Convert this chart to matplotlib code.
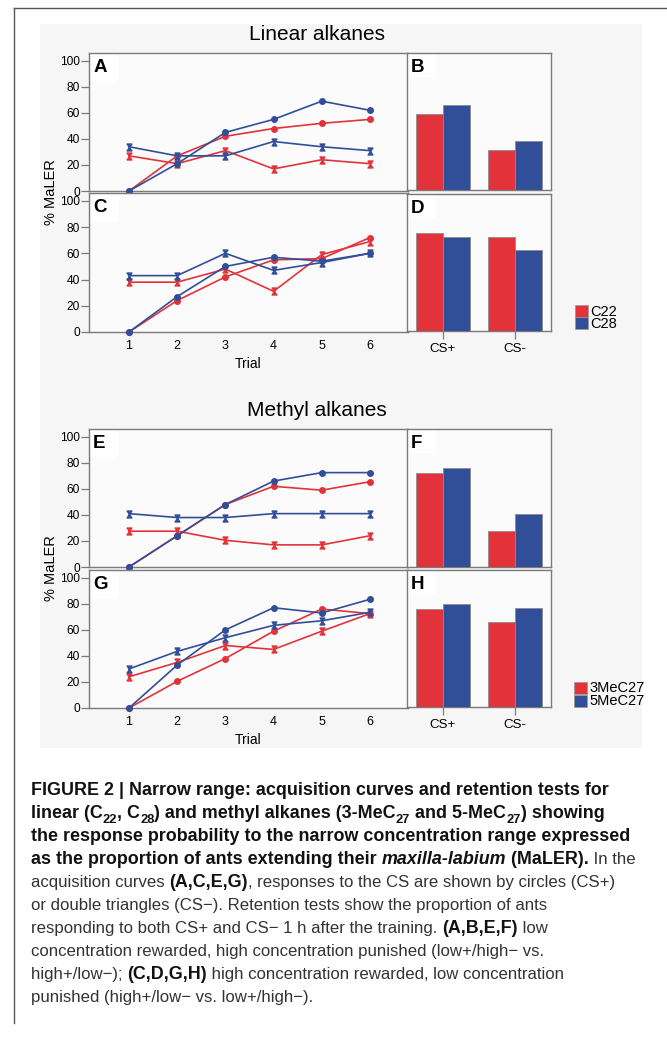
import numpy as np
import matplotlib
matplotlib.use('Agg')
import matplotlib.pyplot as plt
from matplotlib.patches import Rectangle
from matplotlib.lines import Line2D
from matplotlib.path import Path
from matplotlib import font_manager

plt.rcParams['font.family'] = ['Liberation Sans', 'DejaVu Sans']

trials = [1, 2, 3, 4, 5, 6]
groups = ['CS+', 'CS-']

# linear alkanes, low+/high- (A, B)
a_c22_pos = [0, 27, 42, 48, 52, 55]
a_c22_neg = [27, 21, 31, 17, 24, 21]
a_c28_pos = [0, 21, 45, 55, 69, 62]
a_c28_neg = [34, 27, 27, 38, 34, 31]
b_c22 = [59, 31]
b_c28 = [65.5, 38]
# linear alkanes, high+/low- (C, D)
c_c22_pos = [0, 24, 42, 55, 56, 72]
c_c22_neg = [38, 38, 48, 31, 59, 69]
c_c28_pos = [0, 27, 50, 57, 54, 60]
c_c28_neg = [43, 43, 60, 47, 53, 60]
d_c22 = [76, 72.5]
d_c28 = [73, 63]
# methyl alkanes, low+/high- (E, F)
e_3me_pos = [0, 24, 48, 62, 59, 65.5]
e_3me_neg = [27.5, 27.5, 20.5, 17, 17, 24]
e_5me_pos = [0, 24, 48, 66, 72.5, 72.5]
e_5me_neg = [41, 38, 38, 41, 41, 41]
f_3me = [72.5, 27.5]
f_5me = [76, 41]
# methyl alkanes, high+/low- (G, H)
g_3me_pos = [0, 20.5, 38, 59, 76, 72.5]
g_3me_neg = [24, 35, 48, 45, 59, 72.5]
g_5me_pos = [0, 33, 60, 77, 73, 83.5]
g_5me_neg = [30, 43.5, 54, 63.5, 67, 73.5]
h_3me = [76, 65.5]
h_5me = [79.5, 76.5]

red = '#e3333a'
blue = '#304f98'
frame = '#7a7a7a'

W, H = 667, 1037
fig = plt.figure(figsize=(W / 100, H / 100), dpi=100)


def fx(x):
    return x / W


def fy(y):
    return 1 - y / H


def box(l, t, r, b):
    return [l / W, 1 - b / H, (r - l) / W, (b - t) / H]


# page frame + grey figure background
fig.add_artist(Line2D([fx(14), 1], [fy(8), fy(8)], color='#555555', lw=1, transform=fig.transFigure))
fig.add_artist(Line2D([fx(14), fx(14)], [fy(8), fy(1023)], color='#555555', lw=1, transform=fig.transFigure))
fig.add_artist(Rectangle((fx(40), fy(748)), fx(602), 724 / H, color='#f6f6f6', lw=0,
                         transform=fig.transFigure, zorder=-5))

# "double triangle" marker for CS- responses
hourglass = Path([(-0.7, 1), (0.7, 1), (0, 0), (-0.7, 1), (-0.7, -1), (0.7, -1), (0, 0), (-0.7, -1)],
                 [Path.MOVETO, Path.LINETO, Path.LINETO, Path.CLOSEPOLY] * 2)


def style_axes(ax, letter, bw, bh):
    ax.set_facecolor('#fbfbfb')
    for s in ax.spines.values():
        s.set_color(frame)
        s.set_linewidth(1.0)
    ax.add_patch(Rectangle((0, 1 - bh), bw, bh, transform=ax.transAxes, color='white', lw=0, zorder=1))
    ax.text(0.013 if bw < 0.15 else 0.028, 0.955, letter, transform=ax.transAxes, fontsize=13.5,
            fontweight='bold', va='top', ha='left', zorder=2)


def line_panel(rect, letter, series, bottom):
    ax = fig.add_axes(rect)
    style_axes(ax, letter, 29 / 319, 29 / 138)
    for pos, neg, col in series:
        ax.plot(trials, neg, color=col, lw=1.2, marker=hourglass, ms=5, mec=col, mfc=col,
                clip_on=False, zorder=3)
        ax.plot(trials, pos, color=col, lw=1.2, marker='o', ms=4, mec=col, mfc=col,
                clip_on=False, zorder=3)
    ax.set_xlim(0.17, 6.79)
    ax.set_ylim(0, 106)
    ax.set_yticks(range(0, 101, 20))
    ax.tick_params(axis='y', length=6, width=0.9, color=frame, pad=0.5, labelsize=8.6)
    ax.set_xticks(trials)
    if bottom:
        ax.tick_params(axis='x', length=0, pad=6, labelsize=9)
        ax.set_xlabel('Trial', fontsize=10, labelpad=3)
    else:
        ax.tick_params(axis='x', length=0, labelbottom=False)
    return ax


def bar_panel(rect, letter, v1, v2, bottom):
    ax = fig.add_axes(rect)
    style_axes(ax, letter, 28 / 144, 24 / 137)
    x = np.arange(len(groups))
    ax.bar(x - 0.19, v1, 0.38, color=red, edgecolor='#8c8c8c', lw=0.6, zorder=3)
    ax.bar(x + 0.19, v2, 0.38, color=blue, edgecolor='#8c8c8c', lw=0.6, zorder=3)
    ax.set_xlim(-0.5, 1.5)
    ax.set_ylim(0, 106)
    ax.set_yticks([])
    ax.set_xticks(x)
    ax.set_xticklabels(groups)
    if bottom:
        ax.tick_params(axis='x', length=6, width=0.9, color=frame, pad=3, labelsize=9.6)
    else:
        ax.tick_params(axis='x', length=0, labelbottom=False)
    return ax


line_panel(box(89, 53, 408, 191), 'A',
           [(a_c22_pos, a_c22_neg, red), (a_c28_pos, a_c28_neg, blue)], False)
line_panel(box(89, 193, 408, 332), 'C',
           [(c_c22_pos, c_c22_neg, red), (c_c28_pos, c_c28_neg, blue)], True)
bar_panel(box(407, 53, 551, 190), 'B', b_c22, b_c28, False)
bar_panel(box(407, 194, 551, 331), 'D', d_c22, d_c28, True)

line_panel(box(89, 429, 408, 567), 'E',
           [(e_3me_pos, e_3me_neg, red), (e_5me_pos, e_5me_neg, blue)], False)
line_panel(box(89, 570, 408, 708), 'G',
           [(g_3me_pos, g_3me_neg, red), (g_5me_pos, g_5me_neg, blue)], True)
bar_panel(box(407, 429, 551, 567), 'F', f_3me, f_5me, False)
bar_panel(box(407, 570, 551, 707), 'H', h_3me, h_5me, True)

fig.text(fx(317), fy(35), 'Linear alkanes', fontsize=15, ha='center', va='center')
fig.text(fx(317), fy(410), 'Methyl alkanes', fontsize=15, ha='center', va='center')
fig.text(fx(51), fy(192), '% MaLER', fontsize=10.5, rotation=90, ha='center', va='center')
fig.text(fx(51), fy(568), '% MaLER', fontsize=10.5, rotation=90, ha='center', va='center')


def legend(x, y, labels):
    for i, (lab, col) in enumerate(zip(labels, [red, blue])):
        top = y + i * 12.5
        fig.add_artist(Rectangle((fx(x), fy(top + 12)), 13 / W, 12 / H, facecolor=col,
                                 edgecolor='#999999', lw=0.5, transform=fig.transFigure))
        fig.text(fx(x + 15), fy(top + 6.5), lab, fontsize=10.5, ha='left', va='center')


legend(575, 305, ['C22', 'C28'])
legend(574, 682, ['3MeC27', '5MeC27'])

# caption
names = {f.name for f in font_manager.fontManager.ttflist}
cap_font = 'Liberation Sans Narrow' if 'Liberation Sans Narrow' in names else 'Liberation Sans'

cap_lines = [
    [('FIGURE 2 | Narrow range: acquisition curves and retention tests for', 'b')],
    [('linear (C', 'b'), ('22', 'bs'), (', C', 'b'), ('28', 'bs'), (') and methyl alkanes (3-MeC', 'b'),
     ('27', 'bs'), (' and 5-MeC', 'b'), ('27', 'bs'), (') showing', 'b')],
    [('the response probability to the narrow concentration range expressed', 'b')],
    [('as the proportion of ants extending their ', 'b'), ('maxilla-labium', 'bi'), (' (MaLER).', 'b'),
     (' In the', '')],
    [('acquisition curves ', ''), ('(A,C,E,G)', 'b'), (', responses to the CS are shown by circles (CS+)', '')],
    [('or double triangles (CS\u2212). Retention tests show the proportion of ants', '')],
    [('responding to both CS+ and CS\u2212 1 h after the training. ', ''), ('(A,B,E,F)', 'b'), (' low', '')],
    [('concentration rewarded, high concentration punished (low+/high\u2212 vs.', '')],
    [('high+/low\u2212); ', ''), ('(C,D,G,H)', 'b'), (' high concentration rewarded, low concentration', '')],
    [('punished (high+/low\u2212 vs. low+/high\u2212).', '')],
]

renderer = fig.canvas.get_renderer()


def width_at10(txt, weight):
    p = fig.text(0, 0, txt, fontsize=10, weight=weight, family=cap_font)
    w = p.get_window_extent(renderer).width
    p.remove()
    return w


bold_size = 10 * 598 / width_at10(cap_lines[2][0][0], 'bold')
reg_size = 10 * 516 / width_at10(cap_lines[5][0][0], 'normal')

for n, runs in enumerate(cap_lines):
    x = 31.0
    base = 795 + n * 23.0
    for txt, kind in runs:
        fs = bold_size if 'b' in kind else reg_size
        dy = 0
        if 's' in kind:
            dy = fs * 0.28 * 100 / 72
            fs = fs * 0.72
        t = fig.text(fx(x), fy(base + dy), txt, fontsize=fs, family=cap_font,
                     weight='bold' if 'b' in kind else 'normal',
                     style='italic' if 'i' in kind else 'normal',
                     color='#111111' if 'b' in kind else '#333333', ha='left', va='baseline')
        x += t.get_window_extent(renderer).width

fig.savefig('out.png', dpi=100)
